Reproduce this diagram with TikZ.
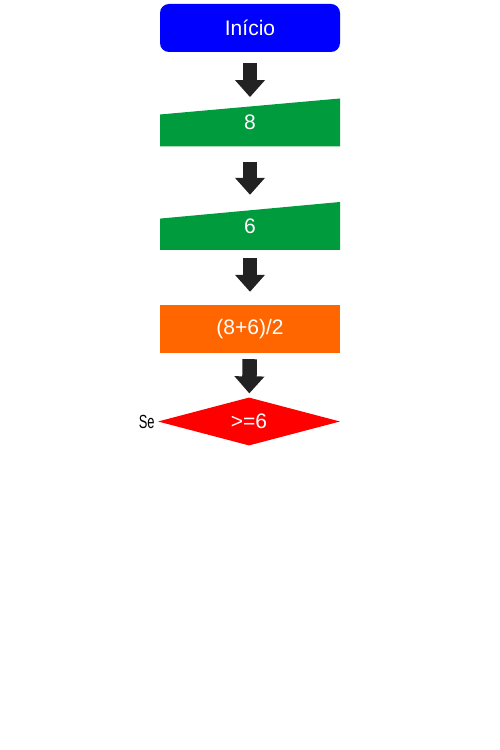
\documentclass[tikz,border=0pt]{standalone}
\usepackage{xcolor}
\usepackage{fontspec}
\setmainfont{Liberation Sans}
\usetikzlibrary{shapes, arrows.meta, positioning}

\definecolor{startblue}{RGB}{0,0,255}
\definecolor{ingreen}{RGB}{0,155,60}
\definecolor{calcorange}{RGB}{255,102,0}
\definecolor{decred}{RGB}{255,0,0}
\definecolor{arrowgray}{RGB}{34,34,34}

\begin{document}
\begin{tikzpicture}[x=1pt,y=1pt]
        \useasboundingbox (0,0) rectangle (500,750);
        \begin{scope}[every node/.style={text=white,font=\fontsize{21}{25}\selectfont,inner sep=0pt,minimum width=180pt,minimum height=48pt}]
          \node[rectangle,rounded corners=9pt,fill=startblue] (a) at (250,722) {Início};
          \node[rectangle,fill=white,path picture={
              \fill[ingreen] (path picture bounding box.north east) -- (path picture bounding box.south east)
                -- (path picture bounding box.south west) -- ([yshift=-16pt]path picture bounding box.north west) -- cycle;}] (b) at (250,627.5) {8};
          \node[rectangle,fill=white,path picture={
              \fill[ingreen] (path picture bounding box.north east) -- (path picture bounding box.south east)
                -- (path picture bounding box.south west) -- ([yshift=-16.6pt]path picture bounding box.north west) -- cycle;}] (c) at (250,524) {6};
          \node[rectangle,fill=calcorange] (d) at (250,421) {(8+6)/2};
          \node[diamond,aspect=3.75,fill=decred,minimum width=182pt] (e) at (249,328.5) {>=6};
        \end{scope}
        \node[inner sep=0pt,font=\fontsize{19}{22}\selectfont,xscale=0.68] (f) [left=3pt of e.west] {Se};
        \begin{scope}[every path/.style={draw=arrowgray,line width=14.5pt,-{Triangle[width=29pt,length=17pt]}}]
          \path[shorten <=11pt,shorten >=1.2pt] (a) -- (b);
          \path[shorten <=15pt,shorten >=7pt] (b) -- (c);
          \path[shorten <=8pt,shorten >=13pt] (c) -- (d);
          \path[shorten <=6pt,shorten >=4pt] (d) -- (e);
        \end{scope}
      \end{tikzpicture}
\end{document}
